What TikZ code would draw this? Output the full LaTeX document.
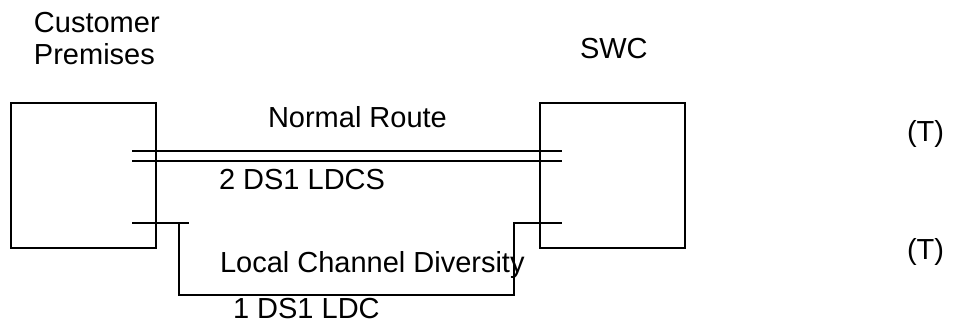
\documentclass[tikz,border=0pt]{standalone}
\usepackage{fontspec}
\setmainfont{Liberation Sans}
\usepackage{tikz}
\usetikzlibrary{positioning}

\begin{document}
\begin{tikzpicture}[x=1pt,y=-1pt,line width=2pt,
    every node/.style={font=\fontsize{29}{32}\selectfont,inner sep=0pt},
    site/.style={draw,minimum width=145pt,minimum height=145pt},
    lbl/.style={anchor=base west}]
  \useasboundingbox (0,0) rectangle (956,325);
  % end offices
  \node[site] (cp) at (83.5,175.5) {};
  \node[site] (swc) at (612,175.5) {};
  \node[lbl] (cpname) at (33,32) {Customer};
  \node[lbl,below=9pt of cpname.south west,anchor=north west] (cpname2) {Premises};
  \node[lbl] (swcname) at (579,58) {SWC};
  % normal route, 2 DS1
  \draw ([xshift=-25pt,yshift=24.8pt]cp.east) -- ([xshift=23pt,yshift=24.8pt]swc.west);
  \draw ([xshift=-25pt,yshift=14.8pt]cp.east) -- ([xshift=23pt,yshift=14.8pt]swc.west);
  \node[lbl] (nr) at (267,127) {Normal Route};
  \node[lbl] (ldcs) at (218,189) {2 DS1 LDCS};
  % diverse route, 1 DS1
  \draw ([xshift=-25pt,yshift=-47.2pt]cp.east) -- ++(57pt,0pt);
  \draw ([xshift=22pt,yshift=-47.2pt]cp.east) -- ++(0pt,-72.3pt)
     -| ([xshift=-25pt,yshift=-47.2pt]swc.west) -- ([xshift=23pt,yshift=-47.2pt]swc.west);
  \node[lbl] (lcd) at (219,272) {Local Channel Diversity};
  \node[lbl] (ldc) at (232,318) {1 DS1 LDC};
  \node[lbl] (t1) at (906,141) {(T)};
  \node[lbl] (t2) at (906,259) {(T)};
\end{tikzpicture}
\end{document}
